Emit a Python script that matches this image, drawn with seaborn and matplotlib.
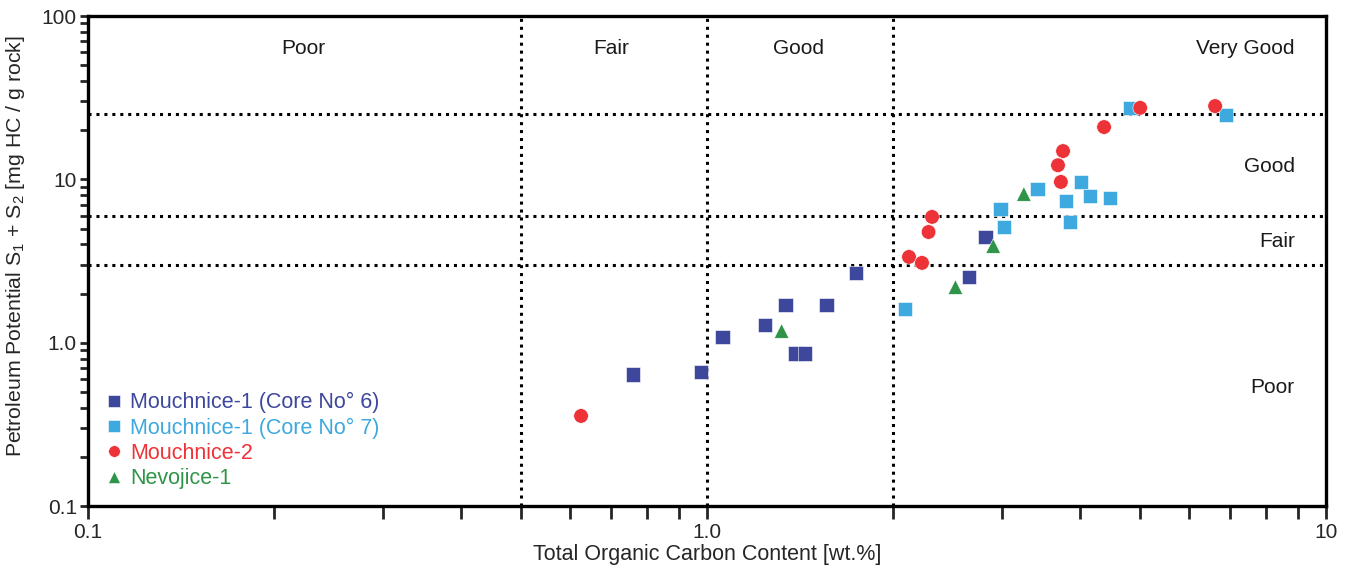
import pandas as pd
import matplotlib.pyplot as plt
import numpy as np
import seaborn as sns
from matplotlib.ticker import FixedLocator, NullFormatter, FixedFormatter

# TOC [wt.%] and S1+S2 [mg HC / g rock]
core6_toc = [0.76, 0.978, 1.06, 1.24, 1.34, 1.39, 1.44, 1.56, 1.74, 2.65, 2.82]
core6_pp = [0.64, 0.66, 1.08, 1.28, 1.70, 0.86, 0.86, 1.70, 2.67, 2.52, 4.43]

core7_toc = [2.09, 2.98, 3.02, 3.42, 3.80, 3.86, 4.02, 4.16, 4.48, 4.83, 6.89]
core7_pp = [1.61, 6.59, 5.11, 8.73, 7.38, 5.48, 9.64, 7.90, 7.69, 27.4, 24.8]

m2_toc = [0.626, 2.12, 2.225, 2.28, 2.31, 3.69, 3.76, 3.73, 4.38, 5.01, 6.62]
m2_pp = [0.356, 3.35, 3.08, 4.76, 5.89, 12.2, 14.9, 9.64, 20.9, 27.4, 28.1]

nev_toc = [1.32, 2.52, 2.90, 3.25]
nev_pp = [1.18, 2.19, 3.91, 8.14]

series = ['Mouchnice-1 (Core No° 6)', 'Mouchnice-1 (Core No° 7)', 'Mouchnice-2', 'Nevojice-1']
colors = ['#3d479c', '#3ea9df', '#ee3338', '#2f9447']
markers = ['s', 's', 'o', '^']

toc_limits = [0.5, 1.0, 2.0]
pp_limits = [3, 6, 25]

df = pd.concat([
    pd.DataFrame({'toc': core6_toc, 'pp': core6_pp, 'well': series[0]}),
    pd.DataFrame({'toc': core7_toc, 'pp': core7_pp, 'well': series[1]}),
    pd.DataFrame({'toc': m2_toc, 'pp': m2_pp, 'well': series[2]}),
    pd.DataFrame({'toc': nev_toc, 'pp': nev_pp, 'well': series[3]}),
])

sns.set_style('white')
plt.rcParams['font.family'] = ['Liberation Sans', 'DejaVu Sans']
plt.rcParams['mathtext.fontset'] = 'custom'
plt.rcParams['mathtext.rm'] = 'Liberation Sans'

fig = plt.figure(figsize=(13.51, 5.66), dpi=100)
ax = fig.add_axes([0.0651, 0.106, 0.9164, 0.8657])
ax.set_xscale('log')
ax.set_yscale('log')

for v in toc_limits:
    ax.axvline(v, color='black', lw=2.2, ls=(0, (1, 1.6)), zorder=1)
for v in pp_limits:
    ax.axhline(v, color='black', lw=2.2, ls=(0, (1, 1.6)), zorder=1)

sns.scatterplot(data=df, x='toc', y='pp', hue='well', style='well',
                palette=dict(zip(series, colors)), markers=dict(zip(series, markers)),
                s=110, edgecolor='white', linewidth=0.4, zorder=3, ax=ax)

ax.set_xlim(0.1, 10)
ax.set_ylim(0.1, 100)

ax.xaxis.set_major_locator(FixedLocator([0.1, 1, 10]))
ax.xaxis.set_major_formatter(FixedFormatter(['0.1', '1.0', '10']))
ax.xaxis.set_minor_locator(FixedLocator([m * d for d in [0.1, 1] for m in range(2, 10)]))
ax.xaxis.set_minor_formatter(NullFormatter())
ax.yaxis.set_major_locator(FixedLocator([0.1, 1, 10, 100]))
ax.yaxis.set_major_formatter(FixedFormatter(['0.1', '1.0', '10', '100']))
ax.yaxis.set_minor_locator(FixedLocator([m * d for d in [0.1, 1, 10] for m in range(2, 10)]))
ax.yaxis.set_minor_formatter(NullFormatter())

ax.tick_params(axis='x', which='both', direction='out', length=9, width=2, bottom=True, top=False,
               labelsize=15, pad=3)
ax.tick_params(axis='y', which='both', direction='out', length=6, width=2, left=True, right=False,
               labelsize=15, pad=2)

for sp in ax.spines.values():
    sp.set_linewidth(2.4)
    sp.set_color('black')

ax.set_xlabel('Total Organic Carbon Content [wt.%]', fontsize=15.5, labelpad=2)
ax.set_ylabel(r'Petroleum Potential S$_\mathregular{1}$ + S$_\mathregular{2}$ [mg HC / g rock]',
              fontsize=15.3)
ax.yaxis.set_label_coords(-0.049, 0.531)

# class labels
tkw = dict(fontsize=15, color='#1a1a1a', va='center')
ax.text(0.2225, 63, 'Poor', ha='center', **tkw)
ax.text(0.70, 63, 'Fair', ha='center', **tkw)
ax.text(1.408, 63, 'Good', ha='center', **tkw)
ax.text(8.9, 63, 'Very Good', ha='right', **tkw)
ax.text(8.9, 12.0, 'Good', ha='right', **tkw)
ax.text(8.9, 4.15, 'Fair', ha='right', **tkw)
ax.text(8.9, 0.535, 'Poor', ha='right', **tkw)

handles, labels = ax.get_legend_handles_labels()
leg = ax.legend(handles, labels, loc='lower left', bbox_to_anchor=(0.003, 0.008), frameon=False,
                fontsize=15.5, labelspacing=0.2, handletextpad=0.3, handlelength=0.9,
                markerscale=0.8, borderaxespad=0.2)
for txt, c in zip(leg.get_texts(), colors):
    txt.set_color(c)

plt.savefig('out.png', dpi=100)
